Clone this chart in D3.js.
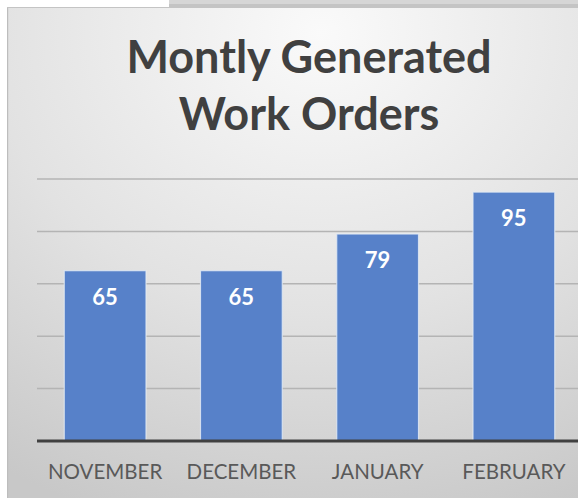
<!DOCTYPE html>
<html>
<head>
<meta charset="utf-8">
<script src="https://cdn.jsdelivr.net/npm/d3@7"></script>
<style>
  body { margin: 0; background: #fff; }
  svg { display: block; }
</style>
</head>
<body>
<svg id="chart" width="578" height="499"></svg>
<script>
// chart data
let months = ["NOVEMBER", "DECEMBER", "JANUARY", "FEBRUARY"];
let orders = [65, 65, 79, 95];
let gridTicks = [20, 40, 60, 80, 100];
let titleLines = ["Montly Generated", "Work Orders"];

let svg = d3.select("#chart");
let font = "Lato, 'Open Sans', sans-serif";

// background gradient
let defs = svg.append("defs");
let grad = defs.append("radialGradient")
    .attr("id", "bg")
    .attr("cx", "55%").attr("cy", "5%")
    .attr("r", "105%")
    .attr("gradientUnits", "objectBoundingBox");
grad.append("stop").attr("offset", "0%").attr("stop-color", "#fafafa");
grad.append("stop").attr("offset", "55%").attr("stop-color", "#e2e2e2");
grad.append("stop").attr("offset", "100%").attr("stop-color", "#c8c8c8");

// the grey strip at the top and the chart box
svg.append("rect").attr("x", 169).attr("y", 0).attr("width", 409).attr("height", 4).attr("fill", "#d6d6d6");
svg.append("rect").attr("x", 169).attr("y", 4).attr("width", 409).attr("height", 4).attr("fill", "#c4c4c4");
svg.append("rect").attr("x", 7).attr("y", 7).attr("width", 162).attr("height", 1).attr("fill", "#c4c4c4");
svg.append("rect")
    .attr("x", 7).attr("y", 8)
    .attr("width", 571).attr("height", 490)
    .attr("fill", "url(#bg)");
svg.append("rect").attr("x", 7).attr("y", 8).attr("width", 1.2).attr("height", 490).attr("fill", "#bdbdbd");

// scales
let x = d3.scaleBand().domain(months).range([37, 582]).paddingInner(0.4).paddingOuter(0.2);
let y = d3.scaleLinear().domain([0, 100]).range([441, 179]);

// gridlines
svg.append("g").selectAll("line")
    .data(gridTicks)
    .join("line")
    .attr("x1", 37).attr("x2", 578)
    .attr("y1", d => y(d)).attr("y2", d => y(d))
    .attr("stroke", "#b4b4b4")
    .attr("stroke-width", 1.5);

// bars
svg.append("g").selectAll("rect")
    .data(orders)
    .join("rect")
    .attr("x", (d, i) => x(months[i]))
    .attr("y", d => y(d))
    .attr("width", x.bandwidth())
    .attr("height", d => y(0) - y(d))
    .attr("fill", "#5781c9")
    .attr("stroke", "#e4ebf5")
    .attr("stroke-opacity", 0.8)
    .attr("stroke-width", 1.2);

// value labels
svg.append("g").selectAll("text")
    .data(orders)
    .join("text")
    .attr("x", (d, i) => x(months[i]) + x.bandwidth() / 2)
    .attr("y", d => y(d) + 34)
    .attr("text-anchor", "middle")
    .attr("font-family", font)
    .attr("font-weight", "bold")
    .attr("font-size", 22)
    .attr("fill", "#ffffff")
    .text(d => d);

// x axis
svg.append("line")
    .attr("x1", 37).attr("x2", 578)
    .attr("y1", y(0)).attr("y2", y(0))
    .attr("stroke", "#404040")
    .attr("stroke-width", 3);

let xAxis = d3.axisBottom(x).tickSize(0).tickPadding(0);
let ax = svg.append("g").attr("transform", "translate(0," + y(0) + ")").call(xAxis);
ax.select(".domain").remove();
ax.selectAll("text")
    .attr("dy", 0)
    .attr("y", 38)
    .attr("font-family", font)
    .attr("font-size", 20.5)
    .attr("fill", "#595959");

// title
svg.append("g").selectAll("text")
    .data(titleLines)
    .join("text")
    .attr("x", 309)
    .attr("y", (d, i) => 73 + i * 57)
    .attr("text-anchor", "middle")
    .attr("font-family", font)
    .attr("font-weight", "bold")
    .attr("font-size", 45)
    .attr("fill", "#404040")
    .text(d => d);
</script>
</body>
</html>
